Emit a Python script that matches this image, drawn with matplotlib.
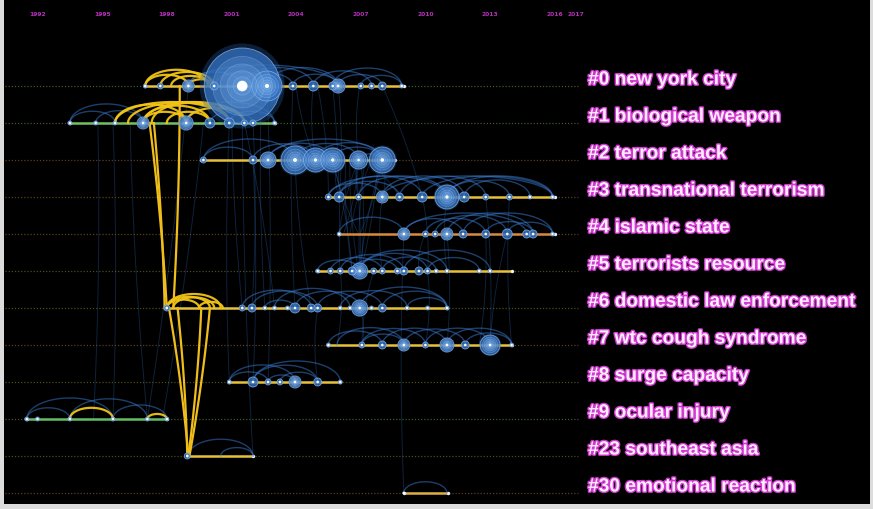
import numpy as np
import matplotlib.pyplot as plt
import matplotlib.patheffects as pe

# Timeline layout
W, H = 873, 510
X_1992 = 37.5      # pixel position of 1992
PX_YEAR = 21.55    # pixels per year
ROW_TOP = 87       # pixel of row 0
ROW_H = 37         # pixels between rows


def px2year(px):
    return 1992 + (px - X_1992) / PX_YEAR


def px2row(py):
    return (py - ROW_TOP) / ROW_H


tick_years = [1992, 1995, 1998, 2001, 2004, 2007, 2010, 2013, 2016, 2017]

cluster_labels = ["#0 new york city", "#1 biological weapon", "#2 terror attack",
                  "#3 transnational terrorism", "#4 islamic state", "#5 terrorists resource",
                  "#6 domestic law enforcement", "#7 wtc cough syndrome", "#8 surge capacity",
                  "#9 ocular injury", "#23 southeast asia", "#30 emotional reaction"]
span_start = [1997.0, 1993.5, 1999.6, 2005.5, 2006.0, 2005.0, 1997.9, 2005.5, 2000.9, 1991.5, 1999.0, 2009.0]
span_end = [2009.0, 2003.0, 2008.6, 2016.0, 2016.0, 2014.0, 2011.0, 2014.0, 2006.05, 1998.0, 2002.0, 2011.05]

# node years and radii (px) per cluster row
node_years = [
    [1997.0, 1997.7, 1999.0, 2000.2, 2001.5, 2002.65, 2003.85, 2004.8, 2005.7, 2005.95, 2007.0, 2007.5, 2008.0, 2008.9],
    [1993.5, 1994.7, 1995.6, 1996.9, 1998.9, 2000.0, 2000.9, 2001.6, 2002.0, 2003.0],
    [1999.7, 2002.0, 2002.7, 2003.95, 2004.9, 2005.7, 2006.9, 2008.0],
    [2005.5, 2006.0, 2006.9, 2008.0, 2008.8, 2009.85, 2011.0, 2011.8, 2012.8, 2013.9, 2014.85, 2015.9],
    [2006.0, 2009.0, 2010.0, 2010.45, 2011.0, 2011.75, 2012.8, 2013.8, 2014.7, 2015.0, 2015.9],
    [2005.0, 2005.6, 2006.05, 2006.6, 2006.95, 2007.6, 2008.0, 2008.7, 2009.0, 2009.7, 2010.1, 2010.5, 2011.0, 2012.5, 2013.0],
    [1998.0, 2001.5, 2001.95, 2002.55, 2003.0, 2003.6, 2003.95, 2004.7, 2005.0, 2006.05, 2006.5, 2006.95, 2007.5, 2008.0, 2009.15, 2010.1, 2011.0],
    [2005.5, 2007.05, 2008.0, 2009.0, 2010.0, 2011.0, 2011.85, 2013.0, 2014.0],
    [2000.9, 2002.0, 2002.7, 2003.25, 2003.95, 2005.0, 2006.05],
    [1991.5, 1992.0, 1993.5, 1995.5, 1997.1, 1998.0],
    [1998.95],
    [2009.0],
]
node_radii = [
    [2, 3, 6, 4, 38, 15, 4, 5, 4, 7, 3, 3, 4, 2],
    [2, 2, 2, 6, 7, 5, 5, 3, 3, 2],
    [3, 4, 8, 14, 12, 12, 9, 13],
    [3, 5, 3, 6, 4, 5, 12, 5, 3, 3, 2, 2],
    [2, 6, 3, 3, 6, 4, 4, 5, 4, 4, 2],
    [2, 3, 3, 4, 8, 3, 3, 3, 4, 4, 3, 2, 2, 2, 2],
    [3, 3, 4, 2, 2, 2, 5, 4, 4, 2, 2, 8, 2, 4, 2, 2, 2],
    [2, 3, 4, 6, 3, 7, 4, 10, 2],
    [2, 5, 3, 3, 6, 4, 2],
    [2, 2, 2, 2, 2, 2],
    [3],
    [1],
]

# co-citation arcs inside each cluster (year pairs)
blue_arcs = [
    [(1999.0, 2001.5), (2000.2, 2002.65), (2001.5, 2004.8), (2002.65, 2005.95), (2003.85, 2005.95),
     (2004.8, 2007.5), (2005.95, 2008.0), (2005.7, 2008.9), (2001.5, 2003.85), (2007.0, 2008.9), (1999.0, 2005.95)],
    [(1993.5, 1996.9), (1993.5, 1995.6), (1994.7, 1996.9), (1998.9, 2003.0), (2000.9, 2003.0), (2000.0, 2002.0)],
    [(1999.7, 2002.0), (1999.7, 2003.95), (2002.0, 2004.9), (2002.7, 2005.7), (2003.95, 2006.9),
     (2004.9, 2008.0), (2005.7, 2008.0), (2002.7, 2008.0), (2003.95, 2005.7), (2006.9, 2008.0)],
    [(2005.5, 2008.0), (2006.0, 2009.85), (2006.9, 2011.0), (2008.0, 2011.8), (2008.8, 2012.8), (2011.0, 2015.9),
     (2009.85, 2015.9), (2011.8, 2014.85), (2006.0, 2008.8), (2011.0, 2013.9), (2008.0, 2015.9), (2005.5, 2011.0)],
    [(2006.0, 2009.0), (2009.0, 2011.75), (2010.45, 2013.8), (2011.0, 2015.0), (2011.75, 2015.9),
     (2012.8, 2015.0), (2010.0, 2012.8), (2009.0, 2014.7), (2013.8, 2015.9)],
    [(2005.0, 2006.95), (2005.6, 2008.0), (2006.05, 2009.0), (2006.95, 2010.1), (2006.95, 2011.0),
     (2008.0, 2010.5), (2009.0, 2013.0), (2010.1, 2012.5), (2006.6, 2008.7)],
    [(2001.5, 2004.7), (2001.95, 2005.0), (2002.55, 2003.95), (2003.95, 2006.95), (2005.0, 2008.0),
     (2006.95, 2011.0), (2008.0, 2011.0), (2006.05, 2009.15), (2003.0, 2006.5), (2009.15, 2011.0)],
    [(2005.5, 2008.0), (2005.9, 2009.0), (2007.05, 2010.0), (2008.0, 2011.0), (2009.0, 2011.85),
     (2010.0, 2013.0), (2011.0, 2014.0), (2011.85, 2014.0), (2007.05, 2009.0)],
    [(2000.9, 2003.95), (2002.0, 2005.0), (2002.0, 2006.05), (2002.7, 2003.95), (2003.25, 2005.0), (2000.9, 2002.7)],
    [(1991.5, 1993.5), (1991.5, 1995.5), (1993.5, 1997.1), (1995.5, 1998.0)],
    [(1999.0, 2002.0), (2000.5, 2002.0)],
    [(2009.0, 2011.0)],
]
yellow_arcs = [
    [(1997.0, 1999.9), (1997.7, 2000.2), (1998.2, 2000.0), (1997.0, 1999.0), (1999.0, 2000.2)],
    [(1995.6, 2000.9), (1996.9, 2000.0), (1996.2, 2001.6), (1996.9, 1998.9), (1998.9, 2001.6),
     (1997.3, 2000.9), (1995.6, 1998.9), (1998.0, 2000.0), (1996.9, 2001.6)],
    [], [], [], [],
    [(1998.0, 2000.5), (1998.0, 1999.5), (1998.3, 2000.2), (1999.5, 2000.6), (1998.0, 2000.0)],
    [], [],
    [(1993.5, 1995.5), (1997.1, 1998.0)],
    [], [],
]

# links between clusters: (row_a, year_a, row_b, year_b)
blue_links = [
    (0, 2001.5, 10, 2002.0), (1, 1995.5, 9, 1995.5), (1, 1996.3, 9, 1997.1), (1, 1994.8, 9, 1994.6),
    (0, 2001.0, 6, 2001.5), (1, 2002.0, 6, 2001.95), (2, 2006.5, 5, 2006.9), (2, 2007.0, 5, 2007.0),
    (2, 2007.5, 4, 2006.5), (2, 2008.0, 3, 2008.0), (2, 2006.9, 3, 2006.9), (2, 2005.7, 5, 2006.6),
    (2, 2008.0, 5, 2006.95), (0, 2005.95, 3, 2006.0), (0, 2004.8, 2, 2004.9), (0, 2005.7, 5, 2006.0),
    (0, 2003.85, 6, 2003.95), (0, 2002.65, 8, 2002.7), (2, 2003.95, 6, 2004.7), (2, 2002.0, 8, 2002.0),
    (4, 2009.0, 11, 2009.0), (3, 2012.8, 7, 2013.0), (4, 2013.8, 7, 2013.0), (4, 2012.8, 7, 2012.5),
    (3, 2013.9, 7, 2014.0), (5, 2006.05, 7, 2005.9), (5, 2007.6, 7, 2007.05), (3, 2009.85, 5, 2010.1),
    (4, 2010.0, 5, 2009.7), (6, 2006.95, 7, 2007.05), (6, 2005.0, 8, 2005.0), (2, 2006.9, 4, 2006.2),
    (2, 2005.7, 4, 2006.9), (0, 2008.0, 3, 2009.85), (1, 2000.9, 8, 2000.9), (0, 1999.0, 9, 1997.1),
    (2, 2006.3, 5, 2006.6), (2, 2006.7, 5, 2006.95), (2, 2007.2, 5, 2006.95), (2, 2007.8, 5, 2007.0),
    (2, 2006.9, 4, 2006.0), (2, 2008.0, 4, 2006.95), (2, 2005.9, 3, 2006.0), (2, 2007.3, 3, 2008.8),
    (0, 2004.0, 2, 2004.9), (0, 2005.0, 3, 2005.5), (0, 2002.4, 6, 2002.55), (1, 2001.6, 6, 2003.0),
    (3, 2011.0, 5, 2011.0), (4, 2011.0, 7, 2011.0), (3, 2008.0, 5, 2008.0), (5, 2010.1, 7, 2010.0),
    (0, 2006.95, 2, 2006.9), (1, 1999.7, 9, 1997.8),
]
yellow_links = [
    (0, 1998.6, 6, 1998.3), (1, 1997.4, 6, 1997.9), (1, 1997.2, 6, 1998.0),
    (6, 1998.1, 10, 1999.0), (6, 1999.6, 10, 1999.0), (6, 2000.0, 10, 1999.05), (6, 1998.5, 10, 1998.95),
]

line_colors = ['#e6c23a', '#74bf62', '#e6c23a', '#e6c23a', '#d98a3c', '#e6c23a',
               '#e6c23a', '#e6c23a', '#e6c23a', '#62be66', '#e6c23a', '#ddb043']
guide_colors = ['#3d5a26', '#3d5a26', '#5a3e1c', '#5a3e1c', '#5a3e1c', '#4f4a1e',
                '#4f4a1e', '#5a3e1c', '#4f4a1e', '#3d5a26', '#4f4a1e', '#5a3e1c']

fig = plt.figure(figsize=(W / 100, H / 100), dpi=100, facecolor='#dcdcdc')
ax = fig.add_axes([4 / W, 5 / H, 866 / W, 504 / H])
ax.set_facecolor('black')
ax.set_xlim(px2year(4), px2year(870))
ax.set_ylim(px2row(505), px2row(1))
ax.set_xticks([])
ax.set_yticks([])
for sp in ax.spines.values():
    sp.set_visible(False)


def arc(x0, x1, row):
    span_px = abs(x1 - x0) * PX_YEAR
    h = min(0.26 * span_px, 21) / ROW_H
    t = np.linspace(0, np.pi, 60)
    xm, a = (x0 + x1) / 2, abs(x1 - x0) / 2
    return xm + a * np.cos(t), row - h * np.sin(t)


def bezier(r0, x0, r1, x1, bend):
    t = np.linspace(0, 1, 60)
    cx, cy = (x0 + x1) / 2 + bend, (r0 + r1) / 2
    bx = (1 - t) ** 2 * x0 + 2 * (1 - t) * t * cx + t ** 2 * x1
    by = (1 - t) ** 2 * r0 + 2 * (1 - t) * t * cy + t ** 2 * r1
    return bx, by


def size(r):
    return (2 * r * 0.72) ** 2


# dotted guide lines for each cluster
for i in range(len(cluster_labels)):
    ax.plot([px2year(5), px2year(578)], [i, i], color=guide_colors[i], lw=0.9,
            ls=(0, (1, 1.5)), zorder=1)

# faint links between clusters
for k, (r0, x0, r1, x1) in enumerate(blue_links):
    bx, by = bezier(r0, x0, r1, x1, 0.25 if k % 2 else -0.25)
    ax.plot(bx, by, color='#2f6fbf', lw=0.7, alpha=0.3, zorder=2)

# cluster timelines
for i in range(len(cluster_labels)):
    ax.plot([span_start[i], span_end[i]], [i, i], color=line_colors[i], lw=1.8,
            solid_capstyle='butt', zorder=3)
    ax.scatter([span_start[i], span_end[i]], [i, i], s=6, color='#e8f2ff', lw=0, zorder=3)

# arcs inside clusters
for i in range(len(cluster_labels)):
    for x0, x1 in blue_arcs[i]:
        ax.plot(*arc(x0, x1, i), color='#3a7ed6', lw=1.0, alpha=0.5, zorder=4)
    for x0, x1 in yellow_arcs[i]:
        ax.plot(*arc(x0, x1, i), color='#f2c416', lw=1.6, alpha=0.95, zorder=5)

for r0, x0, r1, x1 in yellow_links:
    bx, by = bezier(r0, x0, r1, x1, 0.15)
    ax.plot(bx, by, color='#f0be1a', lw=1.6, zorder=5)

# citation nodes
xs = np.concatenate([np.array(v, float) for v in node_years])
ys = np.concatenate([np.full(len(v), i, float) for i, v in enumerate(node_years)])
rs = np.concatenate([np.array(v, float) for v in node_radii])
order = np.argsort(-rs)
xs, ys, rs = xs[order], ys[order], rs[order]

ax.scatter(xs, ys, s=size(rs * 1.12), color='#2a66b8', alpha=0.3, lw=0, zorder=6)
ax.scatter(xs, ys, s=size(rs), facecolor='#3473c4', edgecolor='#8fb6e4', lw=0.6, alpha=0.75, zorder=6)
big = rs >= 6
for f in (0.78, 0.58, 0.4, 0.24):
    ax.scatter(xs[big], ys[big], s=size(rs[big] * f), facecolor='#6ea8e8', edgecolor='#d6e8fb',
               lw=0.5, alpha=0.25, zorder=7)
ax.scatter(xs, ys, s=size(np.maximum(1.3, rs * 0.14)), color='white', lw=0, zorder=8)

# year ticks along the top
for yr in tick_years:
    ax.text(yr, px2row(15), str(yr), color='#b62fbb', fontsize=4.3, fontweight='bold',
            ha='center', va='center', zorder=9)

# cluster labels
for i, lab in enumerate(cluster_labels):
    ax.text(px2year(588), i - 6 / ROW_H, lab, color='#fdeefd', fontsize=13.8,
            fontweight='bold', family='Liberation Sans', ha='left', va='center', zorder=9,
            path_effects=[pe.withStroke(linewidth=2.0, foreground='#d23ad2')])

fig.savefig('out.png', dpi=100, facecolor=fig.get_facecolor())
